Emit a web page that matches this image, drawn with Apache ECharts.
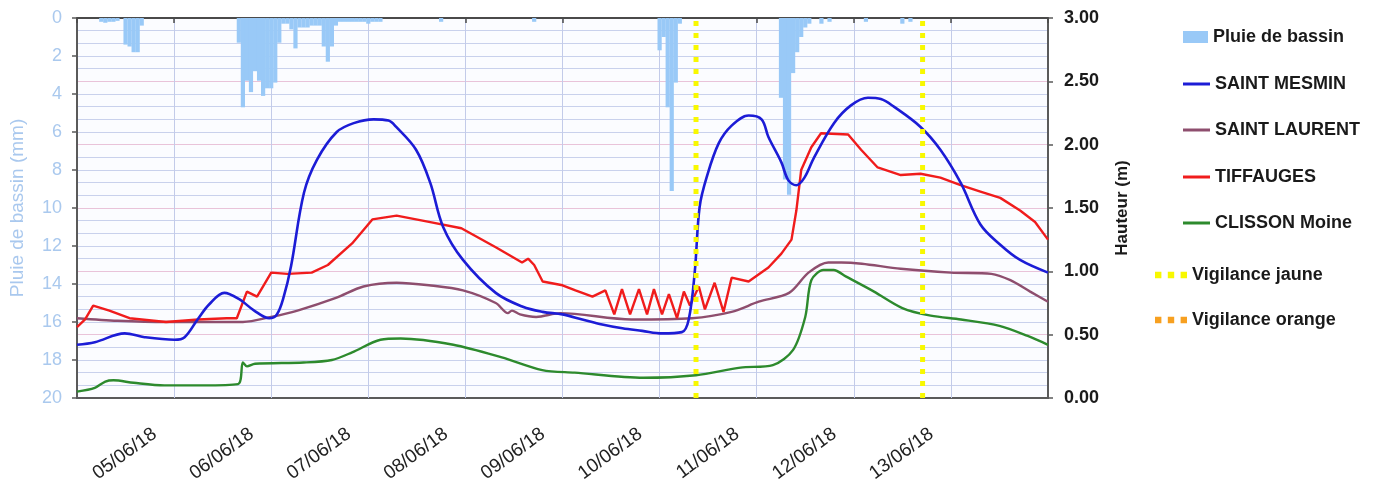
<!DOCTYPE html>
<html>
<head>
<meta charset="utf-8">
<script src="https://cdn.jsdelivr.net/npm/echarts@6/dist/echarts.min.js"></script>
<style>
html,body{margin:0;padding:0;background:#ffffff;}
#chart{width:1375px;height:488px;}
</style>
</head>
<body>
<div id="chart"></div>
<script>
// ---- DATA (x = hours since 04/06/18 00:00) ----
var tickLabels = ['', '05/06/18', '06/06/18', '07/06/18', '08/06/18', '09/06/18', '10/06/18', '11/06/18', '12/06/18', '13/06/18', ''];

var rainHours = [6,7,8,9,10,12,13,14,15,16,
  40,41,42,43,44,45,46,47,48,49,50,51,52,53,54,55,56,57,58,59,60,61,62,63,64,65,66,67,68,69,70,71,72,73,74,75,
  90,113,
  144,145,146,147,148,149,
  174,175,176,177,178,179,180,181,184,186,195,204,206];
var rainMm = [0.2,0.25,0.2,0.2,0.15,1.4,1.5,1.8,1.8,0.4,
  1.3,4.7,3.3,3.9,2.8,3.3,4.1,3.7,3.7,3.4,1.3,0.3,0.3,0.6,1.6,0.5,0.5,0.5,0.4,0.4,0.4,1.5,2.3,1.5,0.4,0.2,0.2,0.2,0.2,0.2,0.2,0.2,0.3,0.2,0.2,0.2,
  0.2,0.2,
  1.7,1.0,4.7,9.1,3.4,0.3,
  4.2,8.5,9.3,2.9,1.8,1.0,0.5,0.3,0.3,0.2,0.2,0.3,0.2];

var mesminHours = [0,4.4,11.8,16.7,24.1,26.6,29.8,32.7,36.4,40.1,43.8,47.5,49.4,51.1,52.9,56.1,59.3,64.2,68.4,73.3,77,78.9,83.8,87.3,90.5,95.4,103.5,110.2,115.1,120,124.9,129.8,134.8,139.7,144.6,149.5,151.2,152.7,153.9,155.7,158.6,161.8,166,169.2,170.9,174.1,175.8,177.8,179.8,182.2,187.1,191.3,195.5,198.7,201.9,208.5,213.4,218.4,223.3,228.2,233.1,240];
var mesminM = [0.42,0.44,0.51,0.48,0.46,0.48,0.62,0.74,0.83,0.78,0.69,0.63,0.66,0.80,1.04,1.62,1.88,2.10,2.17,2.20,2.19,2.14,1.96,1.70,1.35,1.09,0.83,0.72,0.68,0.66,0.62,0.58,0.55,0.53,0.51,0.52,0.62,1.00,1.51,1.75,2.01,2.15,2.23,2.20,2.06,1.86,1.72,1.68,1.74,1.90,2.17,2.31,2.37,2.36,2.30,2.14,1.96,1.70,1.37,1.21,1.09,0.99];

var laurentHours = [0,10,22,41,48,54.5,64,70.8,79,87,95.4,103.5,106.5,107.5,109.5,113.5,119.5,137,152,161.8,168.5,176,180.8,185.7,188.9,194,203.6,216,226,230.7,235.6,240];
var laurentM = [0.63,0.61,0.60,0.60,0.64,0.69,0.79,0.88,0.91,0.89,0.85,0.75,0.67,0.69,0.66,0.64,0.67,0.62,0.63,0.68,0.76,0.83,0.99,1.07,1.07,1.06,1.02,0.99,0.98,0.93,0.84,0.76];

var tiffaugesHours = [0,2,4,5,8,13,22,30,37,39.5,42,44.5,48,52,58,62,68,73,79,87,95,103.5,110,111.5,113,115.1,120,123.2,124.9,127.4,130.6,132.8,134.7,136.7,138.9,140.9,142.6,144.6,146.3,148.3,150,151.5,153.7,155.2,157.6,159.8,161.8,166,170.9,174.1,176.6,177.8,179,181.5,183.9,190.6,193.8,197.9,203.6,208.5,213.4,218.4,223.3,228.2,233.1,236.8,240];
var tiffaugesM = [0.56,0.62,0.73,0.72,0.69,0.63,0.60,0.62,0.63,0.63,0.84,0.80,0.99,0.98,0.99,1.05,1.22,1.41,1.44,1.39,1.34,1.19,1.07,1.10,1.05,0.92,0.89,0.85,0.83,0.80,0.85,0.66,0.86,0.66,0.86,0.66,0.86,0.66,0.82,0.63,0.84,0.73,0.88,0.70,0.91,0.68,0.95,0.92,1.03,1.14,1.25,1.48,1.80,1.98,2.09,2.08,1.96,1.82,1.76,1.77,1.74,1.68,1.63,1.58,1.48,1.39,1.25];

var clissonHours = [0,4.4,7,9,14,21.6,31,39.8,41,42,44,56,63,68,75,80,93,105,115,123,140,153,164,172,177,180,181.5,184.5,187,190,197,204,211,218.5,228,235,240];
var clissonM = [0.05,0.08,0.13,0.14,0.12,0.10,0.10,0.11,0.28,0.25,0.27,0.28,0.30,0.36,0.46,0.47,0.42,0.32,0.22,0.20,0.16,0.18,0.24,0.26,0.38,0.64,0.93,1.01,1.01,0.96,0.84,0.71,0.65,0.62,0.57,0.49,0.42];

var vigilanceJauneHours = [153, 209];
var vigilanceOrangeHours = [];

var names = ['Pluie de bassin', 'SAINT MESMIN', 'SAINT LAURENT', 'TIFFAUGES', 'CLISSON Moine', 'Vigilance jaune', 'Vigilance orange'];

// ---- build ----
function pairs(xs, ys) { return xs.map(function (x, i) { return [x, ys[i]]; }); }
function vlines(hs) {
  var out = [];
  hs.forEach(function (h, i) {
    if (i > 0) out.push([h - 1, '-']);
    out.push([h, 0]); out.push([h, 3]);
  });
  return out;
}

var colors = {
  rain: '#99c9f7', mesmin: '#1c1cd6', laurent: '#8e4e6e', tiff: '#f01c1c', cliss: '#2d8a2d', jaune: '#f8f800', orange: '#f7a020'
};
var FONT = 'Liberation Sans, Arial, sans-serif';

var chart = echarts.init(document.getElementById('chart'), null, { renderer: 'canvas' });

function legendAt(name, top, left, icon, w, h) {
  return {
    data: [{ name: name, icon: icon }],
    orient: 'vertical', left: left, top: top,
    itemWidth: w, itemHeight: h, itemGap: 0,
    selectedMode: false,
    textStyle: { fontFamily: FONT, fontSize: 18, fontWeight: 'bold', color: '#1a1a1a', padding: [0, 0, 0, 0] }
  };
}
var dots = 'path://M0,0h6v6h-6z M12,0h6v6h-6z M24,0h6v6h-6z';

var option = {
  animation: false,
  backgroundColor: '#ffffff',
  grid: { left: 72, right: 327, top: 18, bottom: 90, show: true, backgroundColor: '#fbfcff', borderColor: '#5a5a5a', borderWidth: 2 },
  legend: [
    legendAt(names[0], 23, 1178, 'rect', 25, 12),
    legendAt(names[1], 70, 1178, 'rect', 27, 3),
    legendAt(names[2], 116, 1178, 'rect', 27, 3),
    legendAt(names[3], 163, 1178, 'rect', 27, 3),
    legendAt(names[4], 209, 1178, 'rect', 27, 3),
    legendAt(names[5], 261, 1150, dots, 32, 7),
    legendAt(names[6], 306, 1150, dots, 32, 7)
  ],
  xAxis: {
    type: 'value', min: 0, max: 240, interval: 24,
    axisLine: { show: true, lineStyle: { color: '#4a4a4a', width: 2 }, z: 10 },
    axisTick: { show: true, length: 5, lineStyle: { color: '#4a4a4a', width: 1.5 } },
    axisLabel: {
      rotate: 36, margin: 20, padding: [0, 24, 0, 0], color: '#222', fontFamily: FONT, fontSize: 19,
      showMinLabel: true, showMaxLabel: true,
      formatter: function (v) { return tickLabels[Math.round(v / 24)] || ''; }
    },
    splitLine: { show: true, showMinLine: false, showMaxLine: false, lineStyle: { color: '#c3cbe9', width: 1 } }
  },
  yAxis: [
    {
      type: 'value', min: 0, max: 20, interval: 2, inverse: true, position: 'left',
      name: 'Pluie de bassin (mm)', nameLocation: 'middle', nameGap: 50,
      nameTextStyle: { color: '#a9c8ee', fontFamily: FONT, fontSize: 19 },
      axisLine: { show: true, lineStyle: { color: '#5a5a5a', width: 2 } },
      axisTick: { show: true, length: 5, lineStyle: { color: '#5a5a5a', width: 1.5 } },
      axisLabel: { color: '#aac9ee', fontFamily: FONT, fontSize: 18, margin: 15 },
      splitLine: { show: false }
    },
    {
      type: 'value', min: 0, max: 3, interval: 0.5, position: 'right',
      name: 'Hauteur (m)', nameLocation: 'middle', nameGap: 66, nameRotate: 90,
      nameTextStyle: { color: '#1a1a1a', fontFamily: FONT, fontSize: 17, fontWeight: 'bold' },
      axisLine: { show: true, lineStyle: { color: '#5a5a5a', width: 2 } },
      axisTick: { show: true, length: 5, lineStyle: { color: '#5a5a5a', width: 1.5 } },
      axisLabel: { color: '#1a1a1a', fontFamily: FONT, fontSize: 18, fontWeight: 'bold', margin: 16,
        formatter: function (v) { return v.toFixed(2); } },
      splitLine: { show: true, showMinLine: false, showMaxLine: false, lineStyle: { color: '#e9c3d9', width: 1.2 } },
      minorTick: { show: false, splitNumber: 5 },
      minorSplitLine: { show: true, lineStyle: { color: '#c9d1ec', width: 1 } }
    }
  ],
  series: [
    {
      name: names[0], type: 'bar', yAxisIndex: 0, barWidth: 4.2, barGap: '-100%',
      itemStyle: { color: colors.rain }, data: pairs(rainHours, rainMm), z: 2
    },
    {
      name: names[1], type: 'line', yAxisIndex: 1, symbol: 'none', smooth: 0.35,
      lineStyle: { color: colors.mesmin, width: 2.6 }, itemStyle: { color: colors.mesmin },
      data: pairs(mesminHours, mesminM), z: 5
    },
    {
      name: names[2], type: 'line', yAxisIndex: 1, symbol: 'none', smooth: 0.3,
      lineStyle: { color: colors.laurent, width: 2.4 }, itemStyle: { color: colors.laurent },
      data: pairs(laurentHours, laurentM), z: 4
    },
    {
      name: names[3], type: 'line', yAxisIndex: 1, symbol: 'none', smooth: false,
      lineStyle: { color: colors.tiff, width: 2.4 }, itemStyle: { color: colors.tiff },
      data: pairs(tiffaugesHours, tiffaugesM), z: 4
    },
    {
      name: names[4], type: 'line', yAxisIndex: 1, symbol: 'none', smooth: 0.3,
      lineStyle: { color: colors.cliss, width: 2.4 }, itemStyle: { color: colors.cliss },
      data: pairs(clissonHours, clissonM), z: 4
    },
    {
      name: names[5], type: 'line', yAxisIndex: 1, symbol: 'none', connectNulls: false,
      lineStyle: { color: colors.jaune, width: 5, type: [5, 7] }, itemStyle: { color: colors.jaune },
      data: vlines(vigilanceJauneHours), z: 6
    },
    {
      name: names[6], type: 'line', yAxisIndex: 1, symbol: 'none', connectNulls: false,
      lineStyle: { color: colors.orange, width: 5, type: [5, 7] }, itemStyle: { color: colors.orange },
      data: vlines(vigilanceOrangeHours), z: 6
    }
  ]
};
chart.setOption(option);
</script>
</body>
</html>
